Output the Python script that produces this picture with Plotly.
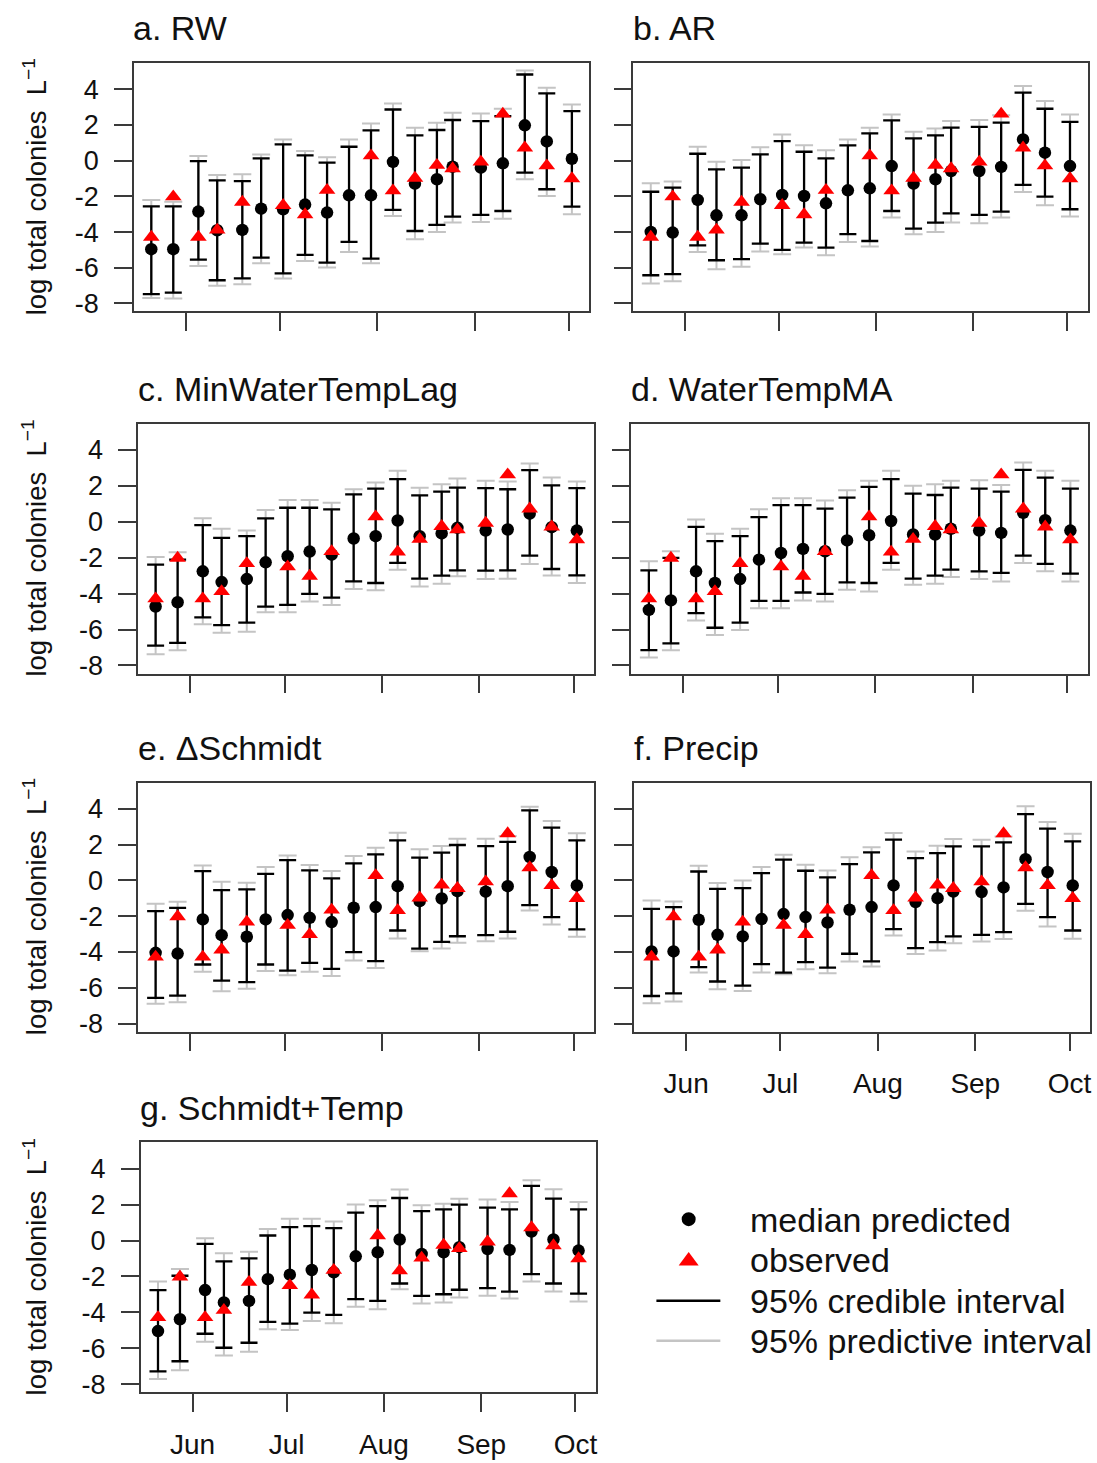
import plotly.graph_objects as go
import pandas as pd

# ---------------- data ----------------
dates = ["2013-05-21", "2013-05-28", "2013-06-05", "2013-06-11", "2013-06-19",
         "2013-06-25", "2013-07-02", "2013-07-09", "2013-07-16", "2013-07-23",
         "2013-07-30", "2013-08-06", "2013-08-13", "2013-08-20", "2013-08-25",
         "2013-09-03", "2013-09-10", "2013-09-17", "2013-09-24", "2013-10-02"]

observed = [-4.28, -2.02, -4.28, -3.88, -2.32, None, -2.5, -3.02, -1.65, None,
            0.28, -1.68, -0.97, -0.25, -0.44, -0.07, 2.62, 0.72, -0.28, -1.0]

month_ticks = ["2013-06-01", "2013-07-01", "2013-08-01", "2013-09-01", "2013-10-01"]
month_labels = ["Jun", "Jul", "Aug", "Sep", "Oct"]
y_ticks = [4, 2, 0, -2, -4, -6, -8]

titles = ["a. RW", "b. AR", "c. MinWaterTempLag", "d. WaterTempMA",
          "e. \u0394Schmidt", "f. Precip", "g. Schmidt+Temp"]

rw_median = [-4.96, -4.96, -2.85, -3.9, -3.88, -2.69, -2.72, -2.46, -2.91, -1.94, -1.94, -0.07, -1.29, -1.04, -0.34, -0.39, -0.15, 1.98, 1.08, 0.11]
rw_cred_lo = [-7.48, -7.39, -5.54, -6.7, -6.6, -5.43, -6.31, -5.28, -5.71, -4.55, -5.49, -2.76, -3.94, -3.6, -3.13, -3.04, -2.82, -0.67, -1.6, -2.57]
rw_cred_hi = [-2.56, -2.56, -0.02, -1.1, -1.14, 0.13, 0.91, 0.3, -0.11, 0.78, 1.7, 2.87, 1.42, 1.72, 2.28, 2.22, 2.5, 4.83, 3.77, 2.78]
rw_pred_lo = [-7.69, -7.72, -5.9, -7.01, -6.92, -5.75, -6.6, -5.62, -5.99, -5.11, -5.75, -3.1, -4.4, -3.99, -3.47, -3.43, -3.25, -1.04, -1.98, -3.0]
rw_pred_hi = [-2.2, -2.3, 0.26, -0.8, -0.76, 0.35, 1.19, 0.54, 0.2, 1.19, 2.09, 3.21, 1.85, 2.13, 2.69, 2.65, 2.91, 5.06, 4.09, 3.15]

ar_median = [-3.99, -4.03, -2.2, -3.06, -3.06, -2.16, -1.92, -1.98, -2.39, -1.66, -1.55, -0.3, -1.29, -1.04, -0.58, -0.58, -0.35, 1.19, 0.45, -0.3]
ar_cred_lo = [-6.42, -6.36, -4.74, -5.58, -5.52, -4.65, -5.0, -4.59, -4.87, -4.12, -4.5, -2.82, -3.81, -3.47, -2.95, -3.04, -2.85, -1.36, -2.01, -2.72]
ar_cred_hi = [-1.74, -1.51, 0.39, -0.49, -0.39, 0.35, 1.1, 0.5, 0.13, 0.86, 1.53, 2.26, 1.25, 1.42, 1.85, 1.9, 2.13, 3.81, 2.91, 2.18]
ar_pred_lo = [-6.88, -6.75, -5.11, -6.08, -5.95, -5.09, -5.24, -4.87, -5.3, -4.55, -4.81, -3.19, -4.12, -3.99, -3.47, -3.51, -3.19, -1.75, -2.5, -3.13]
ar_pred_hi = [-1.27, -1.16, 0.78, -0.06, 0.04, 0.76, 1.47, 0.86, 0.58, 1.19, 1.85, 2.59, 1.62, 1.81, 2.22, 2.28, 2.54, 4.18, 3.34, 2.59]

mwt_median = [-4.72, -4.48, -2.76, -3.36, -3.19, -2.26, -1.92, -1.66, -1.83, -0.93, -0.8, 0.07, -0.8, -0.65, -0.34, -0.49, -0.43, 0.45, -0.3, -0.49]
mwt_cred_lo = [-6.9, -6.74, -5.32, -5.75, -5.62, -4.72, -4.63, -4.01, -4.22, -3.32, -3.41, -2.29, -3.17, -3.0, -2.71, -2.72, -2.71, -1.88, -2.63, -2.99]
mwt_cred_hi = [-2.39, -2.11, -0.19, -0.9, -0.8, 0.19, 0.78, 0.78, 0.69, 1.53, 1.85, 2.37, 1.47, 1.68, 1.9, 1.87, 1.81, 2.87, 2.03, 1.87]
mwt_pred_lo = [-7.37, -7.15, -5.71, -6.18, -6.12, -5.04, -5.04, -4.44, -4.63, -3.75, -3.82, -2.67, -3.6, -3.45, -3.04, -3.19, -3.17, -2.35, -2.99, -3.41]
mwt_pred_hi = [-1.96, -1.7, 0.19, -0.39, -0.49, 0.65, 1.21, 1.21, 1.06, 1.81, 2.18, 2.84, 1.9, 2.09, 2.41, 2.28, 2.24, 3.25, 2.46, 2.24]

wtma_median = [-4.91, -4.38, -2.76, -3.41, -3.19, -2.11, -1.74, -1.51, -1.64, -1.04, -0.75, 0.04, -0.71, -0.71, -0.39, -0.49, -0.62, 0.5, 0.09, -0.49]
wtma_cred_lo = [-7.15, -6.77, -5.09, -5.9, -5.62, -4.4, -4.4, -3.94, -4.01, -3.38, -3.41, -2.29, -3.17, -3.0, -2.67, -2.76, -2.85, -1.88, -2.35, -2.89]
wtma_cred_hi = [-2.71, -2.01, -0.28, -1.08, -0.8, 0.26, 0.93, 0.93, 0.73, 1.34, 1.94, 2.37, 1.57, 1.49, 1.9, 1.85, 1.68, 2.89, 2.46, 1.85]
wtma_pred_lo = [-7.56, -7.15, -5.5, -6.31, -6.03, -4.81, -4.81, -4.38, -4.44, -3.79, -3.88, -2.67, -3.51, -3.45, -3.08, -3.19, -3.32, -2.29, -2.76, -3.32]
wtma_pred_hi = [-2.2, -1.64, 0.13, -0.67, -0.39, 0.69, 1.31, 1.31, 1.19, 1.75, 2.28, 2.84, 2.0, 2.09, 2.28, 2.31, 2.05, 3.3, 2.84, 2.28]

ds_median = [-4.05, -4.09, -2.18, -3.06, -3.15, -2.18, -1.94, -2.09, -2.33, -1.53, -1.49, -0.32, -1.16, -1.01, -0.6, -0.63, -0.32, 1.31, 0.47, -0.28]
ds_cred_lo = [-6.57, -6.44, -4.7, -5.6, -5.69, -4.7, -5.04, -4.61, -4.94, -4.01, -4.51, -2.8, -3.81, -3.43, -3.12, -3.06, -2.87, -1.38, -2.05, -2.74]
ds_cred_hi = [-1.72, -1.53, 0.52, -0.54, -0.5, 0.37, 1.14, 0.56, 0.11, 0.95, 1.46, 2.24, 1.27, 1.55, 1.98, 1.92, 2.15, 3.92, 2.95, 2.24]
ds_pred_lo = [-6.9, -6.81, -5.11, -6.19, -6.06, -5.07, -5.3, -5.11, -5.35, -4.48, -4.89, -3.25, -3.96, -3.81, -3.49, -3.4, -3.25, -1.68, -2.46, -3.15]
ds_pred_hi = [-1.31, -1.19, 0.84, -0.07, -0.13, 0.75, 1.4, 0.86, 0.52, 1.36, 1.83, 2.67, 1.74, 1.92, 2.33, 2.33, 2.48, 4.12, 3.32, 2.63]

pr_median = [-3.97, -3.97, -2.2, -3.04, -3.13, -2.16, -1.88, -2.05, -2.35, -1.64, -1.49, -0.28, -1.21, -0.99, -0.62, -0.65, -0.39, 1.19, 0.47, -0.28]
pr_cred_lo = [-6.46, -6.31, -4.85, -5.65, -5.88, -4.68, -5.15, -4.57, -4.87, -4.1, -4.53, -2.72, -3.79, -3.45, -3.13, -3.04, -2.89, -1.31, -2.05, -2.8]
pr_cred_hi = [-1.59, -1.49, 0.5, -0.47, -0.43, 0.41, 1.16, 0.54, 0.17, 0.91, 1.57, 2.28, 1.25, 1.53, 1.9, 1.9, 2.13, 3.71, 2.89, 2.18]
pr_pred_lo = [-6.87, -6.77, -5.15, -6.08, -6.18, -5.15, -5.25, -4.96, -5.19, -4.53, -4.81, -3.08, -4.12, -3.92, -3.51, -3.41, -3.28, -1.7, -2.57, -3.26]
pr_pred_hi = [-1.12, -1.18, 0.82, -0.15, 0.0, 0.75, 1.44, 0.88, 0.56, 1.29, 1.85, 2.65, 1.62, 1.94, 2.31, 2.28, 2.46, 4.14, 3.26, 2.61]

st_median = [-5.04, -4.38, -2.76, -3.45, -3.36, -2.15, -1.9, -1.64, -1.77, -0.88, -0.65, 0.06, -0.75, -0.65, -0.37, -0.47, -0.52, 0.5, 0.06, -0.56]
st_cred_lo = [-7.28, -6.72, -5.19, -5.97, -5.69, -4.53, -4.63, -4.01, -4.14, -3.26, -3.36, -2.39, -3.08, -2.99, -2.74, -2.65, -2.84, -1.87, -2.39, -2.95]
st_cred_hi = [-2.76, -1.96, -0.19, -1.16, -0.99, 0.28, 0.75, 0.8, 0.69, 1.55, 1.92, 2.37, 1.64, 1.74, 2.0, 1.83, 1.74, 3.04, 2.33, 1.74]
st_pred_lo = [-7.71, -7.22, -5.63, -6.4, -6.19, -4.94, -4.98, -4.48, -4.61, -3.68, -3.82, -2.71, -3.51, -3.45, -3.17, -3.08, -3.23, -2.28, -2.84, -3.4]
st_pred_hi = [-2.28, -1.59, 0.13, -0.71, -0.62, 0.65, 1.21, 1.21, 1.06, 2.01, 2.24, 2.84, 1.96, 2.05, 2.33, 2.28, 2.15, 3.36, 2.85, 2.15]

panels = [
    (rw_median, rw_cred_lo, rw_cred_hi, rw_pred_lo, rw_pred_hi),
    (ar_median, ar_cred_lo, ar_cred_hi, ar_pred_lo, ar_pred_hi),
    (mwt_median, mwt_cred_lo, mwt_cred_hi, mwt_pred_lo, mwt_pred_hi),
    (wtma_median, wtma_cred_lo, wtma_cred_hi, wtma_pred_lo, wtma_pred_hi),
    (ds_median, ds_cred_lo, ds_cred_hi, ds_pred_lo, ds_pred_hi),
    (pr_median, pr_cred_lo, pr_cred_hi, pr_pred_lo, pr_pred_hi),
    (st_median, st_cred_lo, st_cred_hi, st_pred_lo, st_pred_hi),
]

# ---------------- layout geometry (pixels) ----------------
W, H = 1097, 1463
SY = 1.0041  # small vertical correction
boxes = [  # left, right, top, bottom
    (134, 590, 63.3, 311.7),
    (634, 1088.5, 63.3, 311.7),
    (138.3, 595, 424, 674),
    (632, 1089, 424, 674),
    (138.3, 595, 783.3, 1032.3),
    (634.7, 1091.3, 783.3, 1032.3),
    (140.7, 596.7, 1143.3, 1393.3),
]
show_xlabels = [False, False, False, False, False, True, True]
show_ylabels = [True, False, True, False, True, False, True]

FONT = "Liberation Sans, Arial, Helvetica, sans-serif"
TXT = "#111111"
AXC = "#3a3a3a"
GRAY = "#c4c4c4"

def px(x):
    return x / W

def py(y):
    return 1 - (y * SY) / H

jun1 = pd.Timestamp("2013-06-01")
x_range = [str(jun1 - pd.Timedelta(days=16.55)), str(jun1 + pd.Timedelta(days=128.6))]
y_range = [-8.45, 5.46]

fig = go.Figure()
annotations = []
shapes = []

for i, (med, clo, chi, plo, phi) in enumerate(panels):
    k = i + 1
    xa = "x" if k == 1 else f"x{k}"
    ya = "y" if k == 1 else f"y{k}"
    # predictive interval (gray)
    fig.add_trace(go.Scatter(
        x=dates, y=med, mode="markers", xaxis=xa, yaxis=ya, showlegend=False,
        marker=dict(size=1, opacity=0), hoverinfo="skip",
        error_y=dict(type="data", symmetric=False,
                     array=[h - m for h, m in zip(phi, med)],
                     arrayminus=[m - l for m, l in zip(med, plo)],
                     color=GRAY, thickness=2, width=9)))
    # credible interval (black)
    fig.add_trace(go.Scatter(
        x=dates, y=med, mode="markers", xaxis=xa, yaxis=ya, showlegend=False,
        marker=dict(size=1, opacity=0), hoverinfo="skip",
        error_y=dict(type="data", symmetric=False,
                     array=[h - m for h, m in zip(chi, med)],
                     arrayminus=[m - l for m, l in zip(med, clo)],
                     color="black", thickness=2.3, width=8.5)))
    # median predicted
    fig.add_trace(go.Scatter(
        x=dates, y=med, mode="markers", xaxis=xa, yaxis=ya, showlegend=False,
        marker=dict(symbol="circle", size=12.5, color="black", line=dict(width=0))))
    # observed
    fig.add_trace(go.Scatter(
        x=dates, y=observed, mode="markers", xaxis=xa, yaxis=ya, showlegend=False,
        marker=dict(symbol="triangle-up", size=14.5, color="#ff0000", line=dict(width=0))))

    l, r, t, b = boxes[i]
    axis_common = dict(showline=True, mirror=True, linecolor=AXC, linewidth=1.5,
                       ticks="outside", ticklen=18, tickwidth=1.5, tickcolor=AXC,
                       showgrid=False, zeroline=False)
    fig.update_layout(**{
        ("xaxis" if k == 1 else f"xaxis{k}"): dict(
            domain=[px(l), px(r)], anchor=ya, type="date", range=x_range,
            tickvals=month_ticks, ticktext=month_labels,
            showticklabels=show_xlabels[i], ticklabelstandoff=8,
            tickfont=dict(family=FONT, size=28, color=TXT), **axis_common),
        ("yaxis" if k == 1 else f"yaxis{k}"): dict(
            domain=[py(b), py(t)], anchor=xa, range=y_range,
            tickvals=y_ticks, ticktext=[str(v) for v in y_ticks],
            showticklabels=show_ylabels[i], ticklabelstandoff=10,
            tickfont=dict(family=FONT, size=27, color=TXT), **axis_common),
    })
    # panel title
    annotations.append(dict(text=titles[i], x=px(l - 2.5), y=py(t - 35), xref="paper", yref="paper",
                            xanchor="left", yanchor="middle", showarrow=False,
                            font=dict(family=FONT, size=34, color=TXT)))
    # y-axis title (left column only)
    if show_ylabels[i]:
        annotations.append(dict(text="log total colonies  L<sup>\u22121</sup>",
                                x=px(35), y=py((t + b) / 2 - 1), xref="paper", yref="paper",
                                xanchor="center", yanchor="middle", textangle=-90, showarrow=False,
                                font=dict(family=FONT, size=27.5, color=TXT)))

# ---------------- legend (manual) ----------------
leg_x_sym = 689.3
leg_rows = [1221, 1261, 1302, 1342]
leg_texts = ["median predicted", "observed", "95% credible interval", "95% predictive interval"]
r_dot = 7
shapes.append(dict(type="circle", xref="paper", yref="paper",
                   x0=px(leg_x_sym - r_dot), x1=px(leg_x_sym + r_dot),
                   y0=py(1220 + r_dot), y1=py(1220 - r_dot),
                   fillcolor="black", line=dict(width=0)))
tri = [(leg_x_sym, 1253), (leg_x_sym + 10, 1266.5), (leg_x_sym - 10, 1266.5)]
shapes.append(dict(type="path", xref="paper", yref="paper",
                   path="M {} {} L {} {} L {} {} Z".format(
                       px(tri[0][0]), py(tri[0][1]), px(tri[1][0]), py(tri[1][1]),
                       px(tri[2][0]), py(tri[2][1])),
                   fillcolor="#ff0000", line=dict(width=0)))
shapes.append(dict(type="line", xref="paper", yref="paper",
                   x0=px(657), x1=px(721), y0=py(1301.7), y1=py(1301.7),
                   line=dict(color="black", width=2.5)))
shapes.append(dict(type="line", xref="paper", yref="paper",
                   x0=px(657), x1=px(721), y0=py(1341.7), y1=py(1341.7),
                   line=dict(color=GRAY, width=2.5)))
for txt, yy in zip(leg_texts, leg_rows):
    annotations.append(dict(text=txt, x=px(749), y=py(yy), xref="paper", yref="paper",
                            xanchor="left", yanchor="middle", showarrow=False,
                            font=dict(family=FONT, size=34, color=TXT)))

fig.update_layout(width=W, height=H, autosize=False,
                  margin=dict(l=0, r=0, t=0, b=0),
                  paper_bgcolor="white", plot_bgcolor="white",
                  annotations=annotations, shapes=shapes, showlegend=False)

fig.write_html("out.html")
